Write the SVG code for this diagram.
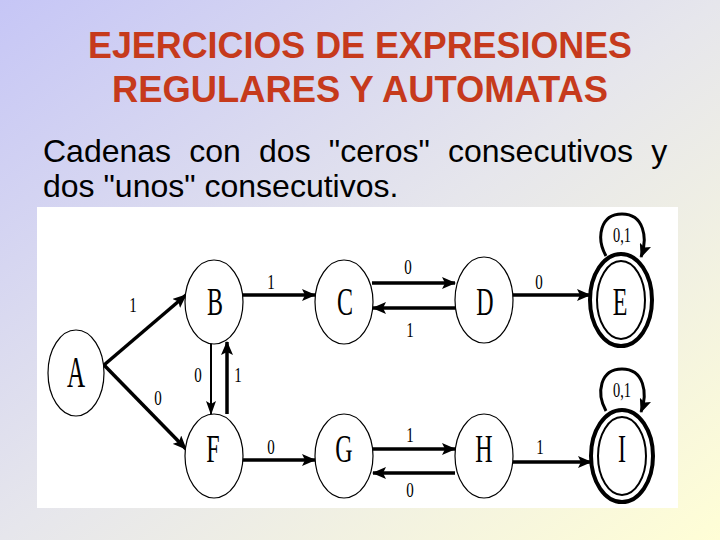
<svg xmlns="http://www.w3.org/2000/svg" width="720" height="540" viewBox="0 0 720 540">
<defs>
<linearGradient id="bg" x1="0" y1="0" x2="1" y2="1">
<stop offset="0" stop-color="#c6c6f6"/>
<stop offset="0.5" stop-color="#e6e6ec"/>
<stop offset="1" stop-color="#fffed6"/>
</linearGradient>
<marker id="ah" markerUnits="userSpaceOnUse" markerWidth="14" markerHeight="12" refX="13" refY="6" orient="auto">
<path d="M0,0 L14,6 L0,12 L3,6 Z" fill="#000"/>
</marker>
<marker id="ahs" markerUnits="userSpaceOnUse" markerWidth="14" markerHeight="10" refX="13" refY="5" orient="auto">
<path d="M0,0 L14,5 L0,10 L3,5 Z" fill="#000"/>
</marker>
<style>
.title{font-family:"Liberation Sans",Arial,sans-serif;font-weight:bold;font-size:36px;fill:#c63a1c;text-anchor:middle}
.sub{font-family:"Liberation Sans",Arial,sans-serif;font-size:32px;fill:#000}
.node{fill:#fff;stroke:#000;stroke-width:1.2}
.acc{fill:#fff;stroke:#000;stroke-width:4}
.inner{fill:none;stroke:#000;stroke-width:2}
.lt{font-family:"Liberation Serif","Times New Roman",serif;font-size:40px;text-anchor:middle;fill:#000}
.el{font-family:"Liberation Serif","Times New Roman",serif;font-size:20px;text-anchor:middle;fill:#000}
.e{fill:none;stroke:#000;stroke-width:3.5;marker-end:url(#ah)}
.thin{fill:none;stroke:#000;stroke-width:2;marker-end:url(#ahs)}
.loop{fill:none;stroke:#000;stroke-width:3;marker-end:url(#ah)}
</style>
</defs>
<rect width="720" height="540" fill="url(#bg)"/>
<g id="title">
<text class="title" x="360" y="58" textLength="544" lengthAdjust="spacingAndGlyphs">EJERCICIOS DE EXPRESIONES</text>
<text class="title" x="360" y="102" textLength="496" lengthAdjust="spacingAndGlyphs">REGULARES Y AUTOMATAS</text>
</g>
<g id="subtitle">
<text class="sub" x="43" y="162" word-spacing="9.3">Cadenas con dos "ceros" consecutivos y</text>
<text class="sub" x="43" y="197">dos "unos" consecutivos.</text>
</g>
<rect x="37" y="207" width="641" height="301" fill="#fff"/>
<g id="connectors">
<line class="e" x1="104" y1="365" x2="186" y2="295"/>
<line class="e" x1="104" y1="365" x2="186" y2="449"/>
<line class="e" x1="243" y1="295" x2="315" y2="295"/>
<line class="e" x1="372" y1="283" x2="455" y2="283"/>
<line class="e" x1="455" y1="308" x2="373" y2="308"/>
<line class="e" x1="512" y1="295" x2="590" y2="295"/>
<line class="thin" x1="211" y1="342" x2="211" y2="414"/>
<line class="e" x1="227" y1="414" x2="227" y2="342"/>
<line class="e" x1="243" y1="460" x2="315" y2="460"/>
<line class="e" x1="373" y1="449" x2="455" y2="449"/>
<line class="e" x1="455" y1="473" x2="373" y2="473"/>
<line class="e" x1="513" y1="462" x2="591" y2="462"/>
<path class="loop" d="M606,256 C596,238 600,214 622,214 C644,214 648,238 641,257"/>
<path class="loop" d="M606,411 C596,393 600,369 622,369 C644,369 648,393 641,412"/>
<g id="edge-labels">
<text class="el" transform="translate(133,312) scale(0.75,1)">1</text>
<text class="el" transform="translate(158,405) scale(0.75,1)">0</text>
<text class="el" transform="translate(271,289) scale(0.75,1)">1</text>
<text class="el" transform="translate(408,274) scale(0.75,1)">0</text>
<text class="el" transform="translate(410,337) scale(0.75,1)">1</text>
<text class="el" transform="translate(539,289) scale(0.75,1)">0</text>
<text class="el" transform="translate(198,382) scale(0.75,1)">0</text>
<text class="el" transform="translate(238,382) scale(0.75,1)">1</text>
<text class="el" transform="translate(271,454) scale(0.75,1)">0</text>
<text class="el" transform="translate(410,442) scale(0.75,1)">1</text>
<text class="el" transform="translate(410,497) scale(0.75,1)">0</text>
<text class="el" transform="translate(540,454) scale(0.75,1)">1</text>
<text class="el" transform="translate(622,242) scale(0.72,1)">0,1</text>
<text class="el" transform="translate(622,397) scale(0.72,1)">0,1</text>
</g>
</g>
<g id="A"><ellipse class="node" cx="76" cy="373" rx="28" ry="43"/><text class="lt" style="font-size:44px" transform="translate(76,387) scale(0.57,1)">A</text></g>
<g id="B"><ellipse class="node" cx="214" cy="302" rx="29" ry="42"/><text class="lt" transform="translate(215,315) scale(0.6,1)">B</text></g>
<g id="C"><ellipse class="node" cx="344" cy="302" rx="29" ry="42"/><text class="lt" transform="translate(345,315) scale(0.6,1)">C</text></g>
<g id="D"><ellipse class="node" cx="484" cy="300" rx="29" ry="43"/><text class="lt" transform="translate(485,315) scale(0.6,1)">D</text></g>
<g id="E"><ellipse class="acc" cx="621" cy="300" rx="31" ry="46"/><ellipse class="inner" cx="621" cy="300" rx="24" ry="39"/><text class="lt" transform="translate(620,315) scale(0.6,1)">E</text></g>
<g id="F"><ellipse class="node" cx="214" cy="456" rx="29" ry="42"/><text class="lt" transform="translate(213,462) scale(0.6,1)">F</text></g>
<g id="G"><ellipse class="node" cx="344" cy="456" rx="29" ry="42"/><text class="lt" transform="translate(344,462) scale(0.6,1)">G</text></g>
<g id="H"><ellipse class="node" cx="484" cy="456" rx="29" ry="42"/><text class="lt" transform="translate(484,462) scale(0.6,1)">H</text></g>
<g id="I"><ellipse class="acc" cx="622" cy="456" rx="31" ry="46"/><ellipse class="inner" cx="622" cy="456" rx="24" ry="39"/><text class="lt" transform="translate(622,462) scale(0.6,1)">I</text></g>
</svg>
